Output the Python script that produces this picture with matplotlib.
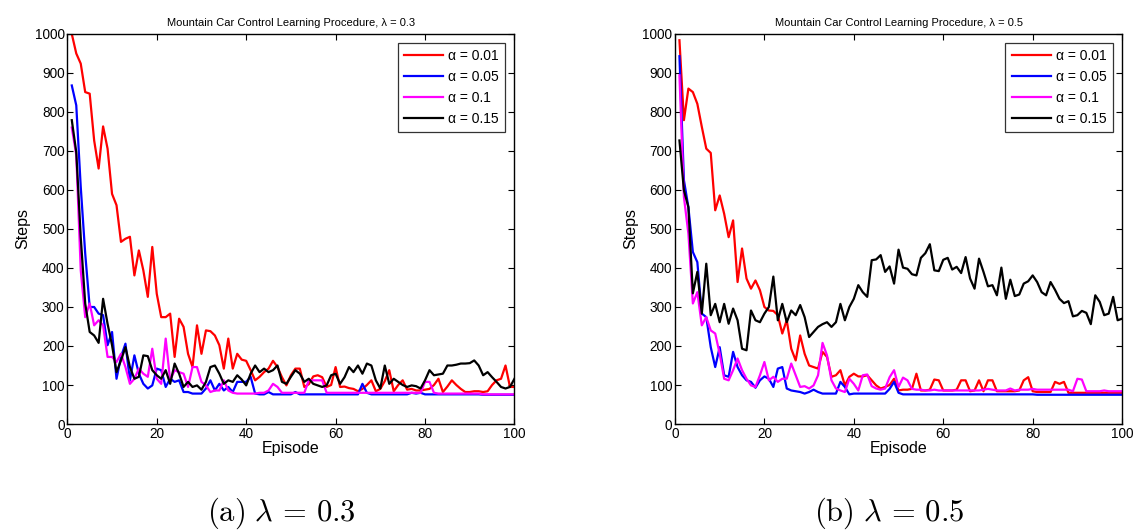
import numpy as np
import matplotlib
matplotlib.use('Agg')
import matplotlib.pyplot as plt

plt.rcParams['font.family'] = ['Liberation Sans', 'DejaVu Sans']
plt.rcParams['mathtext.fontset'] = 'cm'

episodes = np.arange(1, 101)
alphas = ['0.01', '0.05', '0.1', '0.15']
colors = ['#ff0000', '#0000ff', '#ff00ff', '#000000']

# lambda = 0.3
steps_03_a001 = [1000, 950, 924, 851, 847, 727, 655, 763, 706, 590,
                 561, 467, 475, 480, 381, 445, 394, 326, 454, 334,
                 274, 274, 283, 172, 270, 249, 180, 146, 253, 180,
                 240, 238, 227, 202, 142, 219, 142, 180, 165, 162,
                 138, 112, 121, 133, 142, 162, 146, 120, 99, 125,
                 142, 142, 95, 102, 122, 125, 120, 95, 100, 146,
                 95, 96, 92, 90, 84, 90, 100, 112, 84, 90,
                 110, 138, 84, 100, 112, 88, 90, 86, 86, 88,
                 90, 100, 116, 82, 96, 112, 100, 90, 82, 82,
                 84, 84, 82, 84, 100, 112, 116, 150, 95, 95]
steps_03_a005 = [868, 817, 608, 437, 300, 300, 283, 279, 202, 236,
                 116, 172, 206, 112, 176, 129, 103, 91, 99, 142,
                 138, 95, 116, 108, 112, 82, 82, 78, 78, 78,
                 91, 112, 86, 103, 86, 95, 82, 108, 108, 108,
                 121, 78, 76, 76, 82, 76, 76, 76, 76, 76,
                 82, 76, 76, 76, 76, 76, 76, 76, 76, 76,
                 76, 76, 76, 76, 76, 103, 80, 76, 76, 76,
                 76, 76, 76, 76, 76, 76, 80, 78, 80, 76,
                 76, 76, 76, 76, 76, 76, 76, 76, 76, 76,
                 76, 76, 75, 75, 75, 75, 75, 75, 75, 75]
steps_03_a01 = [760, 690, 394, 274, 309, 253, 266, 253, 172, 172,
                159, 180, 146, 103, 116, 142, 129, 121, 193, 116,
                103, 219, 112, 138, 133, 129, 95, 146, 146, 108,
                99, 82, 86, 86, 112, 86, 80, 78, 78, 78,
                78, 78, 80, 80, 86, 103, 95, 80, 80, 80,
                80, 80, 80, 112, 112, 112, 112, 80, 80, 80,
                80, 80, 80, 80, 80, 80, 80, 80, 80, 80,
                80, 80, 80, 80, 80, 80, 80, 80, 80, 108,
                108, 80, 78, 78, 78, 78, 78, 78, 78, 78,
                78, 78, 76, 76, 76, 76, 76, 76, 76, 76]
steps_03_a015 = [779, 697, 479, 309, 236, 227, 208, 321, 257, 202,
                 133, 163, 197, 146, 116, 121, 176, 174, 138, 125,
                 116, 138, 103, 155, 129, 95, 108, 95, 99, 88,
                 108, 146, 150, 129, 103, 112, 108, 125, 114, 99,
                 129, 150, 133, 142, 133, 138, 150, 108, 103, 121,
                 138, 129, 108, 116, 103, 99, 95, 99, 125, 129,
                 103, 120, 146, 133, 150, 129, 155, 150, 112, 91,
                 150, 103, 116, 108, 100, 95, 99, 97, 91, 112,
                 138, 125, 127, 129, 150, 150, 152, 155, 155, 156,
                 163, 150, 125, 133, 120, 108, 95, 91, 95, 116]

# lambda = 0.5
steps_05_a001 = [984, 779, 860, 851, 821, 762, 706, 695, 548, 586,
                 539, 479, 522, 364, 450, 373, 347, 368, 343, 300,
                 291, 290, 279, 232, 266, 193, 163, 227, 180, 150,
                 146, 142, 185, 172, 121, 125, 138, 99, 121, 129,
                 122, 122, 125, 112, 99, 91, 95, 100, 116, 86,
                 88, 88, 90, 129, 86, 86, 88, 114, 112, 86,
                 86, 86, 88, 112, 112, 84, 86, 112, 84, 112,
                 112, 84, 84, 84, 84, 84, 86, 112, 120, 84,
                 82, 82, 82, 82, 108, 103, 108, 80, 80, 80,
                 80, 80, 80, 80, 80, 80, 80, 80, 80, 80]
steps_05_a005 = [943, 625, 556, 441, 415, 283, 274, 197, 146, 197,
                 125, 121, 185, 146, 125, 112, 108, 93, 112, 122,
                 116, 95, 142, 146, 91, 86, 84, 82, 78, 82,
                 88, 82, 78, 78, 78, 78, 108, 95, 76, 78,
                 78, 78, 78, 78, 78, 78, 78, 90, 108, 80,
                 76, 76, 76, 76, 76, 76, 76, 76, 76, 76,
                 76, 76, 76, 76, 76, 76, 76, 76, 76, 76,
                 76, 76, 76, 76, 76, 76, 76, 76, 76, 76,
                 75, 75, 75, 75, 75, 75, 75, 75, 75, 75,
                 75, 75, 75, 75, 75, 75, 75, 75, 75, 75]
steps_05_a01 = [894, 582, 488, 309, 338, 253, 274, 240, 232, 180,
                116, 112, 138, 168, 138, 116, 99, 95, 125, 159,
                112, 121, 108, 116, 116, 155, 125, 95, 97, 91,
                99, 125, 208, 176, 112, 91, 86, 82, 116, 103,
                86, 125, 127, 97, 91, 88, 91, 120, 138, 95,
                119, 112, 90, 88, 88, 86, 86, 88, 86, 86,
                86, 86, 86, 86, 86, 86, 86, 86, 88, 90,
                88, 86, 86, 86, 91, 86, 88, 88, 88, 90,
                88, 88, 88, 88, 88, 88, 88, 88, 84, 116,
                114, 84, 84, 84, 84, 86, 84, 84, 84, 84]
steps_05_a015 = [727, 599, 556, 335, 390, 283, 411, 279, 308, 261,
                 308, 257, 296, 266, 193, 189, 291, 266, 261, 283,
                 300, 378, 266, 308, 261, 291, 279, 305, 274, 223,
                 236, 249, 256, 261, 249, 261, 308, 266, 300, 321,
                 356, 338, 326, 420, 422, 433, 390, 404, 360, 447,
                 401, 398, 384, 381, 426, 438, 461, 394, 392, 421,
                 426, 396, 403, 387, 428, 373, 347, 424, 390, 353,
                 356, 330, 401, 321, 370, 328, 332, 360, 366, 381,
                 364, 338, 330, 364, 344, 321, 310, 315, 276, 279,
                 290, 285, 256, 330, 313, 279, 283, 326, 266, 270]

panels = [
    ('0.3', '(a)', [steps_03_a001, steps_03_a005, steps_03_a01, steps_03_a015]),
    ('0.5', '(b)', [steps_05_a001, steps_05_a005, steps_05_a01, steps_05_a015]),
]

fig = plt.figure(figsize=(11.45, 5.31), dpi=100)
lefts = [0.0588, 0.5895]
width = 0.3905

for left, (lam, tag, series) in zip(lefts, panels):
    ax = fig.add_axes([left, 0.2015, width, 0.7345])
    for s, a, c in zip(series, alphas, colors):
        ax.plot(episodes, s, color=c, lw=1.6, label=u'\u03b1 = ' + a)
    ax.set_xlim(0, 100)
    ax.set_ylim(0, 1000)
    ax.set_xticks(np.arange(0, 101, 20))
    ax.set_yticks(np.arange(0, 1001, 100))
    ax.tick_params(direction='in', top=True, right=True, labelsize=9.8,
                   length=4, width=0.8, pad=2)
    for sp in ax.spines.values():
        sp.set_linewidth(1.0)
    ax.set_title(u'Mountain Car Control Learning Procedure, \u03bb = ' + lam,
                 fontsize=8, pad=6)
    ax.set_xlabel('Episode', fontsize=11.5, labelpad=0)
    ax.set_ylabel('Steps', fontsize=11.5, labelpad=3)
    leg = ax.legend(loc='upper right', fontsize=10, fancybox=False,
                    handlelength=2.8, borderaxespad=0.65, labelspacing=0.5,
                    handletextpad=0.4, borderpad=0.45)
    leg.get_frame().set_edgecolor('black')
    leg.get_frame().set_linewidth(0.9)
    # subfigure caption under each panel
    fig.text(left + width / 2 - 0.008, 0.019,
             r'$\mathrm{' + tag + r'}\ \lambda\, =\, ' + lam + '$',
             ha='center', va='baseline', fontsize=22)

fig.savefig('out.png', dpi=100)
